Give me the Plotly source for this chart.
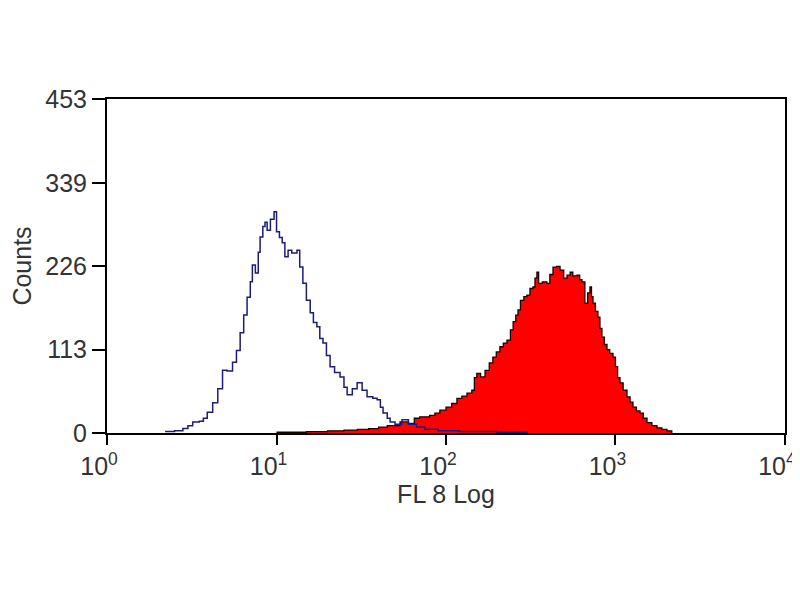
import plotly.graph_objects as go

# istogramma di controllo (isotipo) - solo contorno blu
blue_x = [2.2, 2.5, 2.8, 3.0, 3.2, 3.5, 3.7, 3.9, 4.2, 4.5, 4.8, 5.1, 5.5, 5.8, 6.1, 6.4, 6.7,
          7.0, 7.2, 7.5, 7.8, 8.0, 8.3, 8.55, 8.8, 9.2, 9.67, 10.0, 10.4, 10.8, 11.2, 11.7, 12.3,
          13.2, 13.7, 14.3, 15.0, 15.8, 16.5, 17.3, 18.0, 18.8, 19.7, 20.7, 22.0, 23.7, 25.0,
          26.1, 28.0, 29.9, 32.0, 34.2, 37.0, 39.2, 41.0, 42.5, 45.0, 46.8, 50.0, 55.0, 60.0,
          67.0, 75.0, 90.0, 120.0, 200.0, 300.0]
blue_counts = [2, 3, 6, 10, 15, 16, 20, 28, 41, 60, 85, 84, 96, 112, 136, 160, 184,
               205, 228, 217, 245, 266, 280, 286, 275, 290, 300, 273, 265, 258, 239, 248, 244,
               248, 225, 203, 180, 163, 150, 144, 128, 122, 105, 90, 82, 76, 62,
               52, 60, 68, 58, 49, 47, 45, 35, 27, 20, 15, 12, 18, 12,
               8, 5, 3, 2, 1, 0]

# campione colorato - istogramma pieno rosso
red_x = [10, 15, 20, 25, 30, 35, 40, 45, 53.5, 60, 65, 70, 80, 86, 92, 100, 108, 116, 124, 133,
         142, 147, 152, 160, 170, 180, 189, 198, 208, 218, 229, 240, 249, 258, 266, 275, 288,
         300, 313, 326, 335, 344, 352, 370, 394, 410, 428, 450, 471, 495, 518, 540, 560, 593,
         615, 634, 660, 685, 707, 722, 737, 762, 788, 810, 832, 860, 891, 925, 967, 1000, 1030,
         1064, 1110, 1170, 1220, 1269, 1330, 1396, 1460, 1535, 1640, 1758, 1880, 2014, 2150]
red_counts = [1, 2, 3, 4, 5, 6, 8, 10, 15, 13, 20, 22, 24, 27, 31, 35, 40, 47, 50, 54,
              58, 75, 81, 76, 85, 95, 103, 110, 117, 122, 126, 140, 151, 160, 167, 180, 185,
              187, 196, 198, 210, 218, 203, 205, 203, 215, 225, 226, 221, 210, 214, 218, 213, 214,
              208, 205, 176, 190, 198, 185, 176, 165, 157, 142, 130, 120, 113, 108, 103, 90, 75,
              68, 58, 49, 42, 35, 30, 27, 20, 14, 10, 7, 5, 3, 0]

y_ticks = [0, 113, 226, 339, 453]
x_ticks = [1, 10, 100, 1000, 10000]
x_labels = ['10<sup>0</sup>', '10<sup>1</sup>', '10<sup>2</sup>', '10<sup>3</sup>', '10<sup>4</sup>']

font_assi = dict(family='Liberation Sans', size=25, color='#333333')

fig = go.Figure()
fig.add_trace(go.Scatter(x=red_x, y=red_counts, mode='lines', line_shape='hv',
                         fill='tozeroy', fillcolor='#ff0000',
                         line=dict(color='#1a0000', width=1.3)))
fig.add_trace(go.Scatter(x=blue_x, y=blue_counts, mode='lines', line_shape='hv',
                         line=dict(color='#1c1c7a', width=1.5)))

asse = dict(showline=True, mirror=True, linecolor='black', linewidth=2,
            ticks='outside', tickwidth=2, tickcolor='black',
            showgrid=False, zeroline=False, automargin=False, tickfont=font_assi)

fig.update_xaxes(type='log', range=[-0.0005, 4.0005], tickvals=x_ticks, ticktext=x_labels,
                 ticklen=10, ticklabelshift=-8,
                 title=dict(text='FL 8 Log', standoff=4, font=font_assi), **asse)
fig.update_yaxes(range=[0, 453], tickvals=y_ticks, ticklen=13,
                 title=dict(text='Counts', standoff=14, font=font_assi), **asse)

fig.update_layout(width=800, height=600, showlegend=False,
                  plot_bgcolor='white', paper_bgcolor='white',
                  margin=dict(l=99, r=23, t=91, b=175))

fig.write_html('out.html')
